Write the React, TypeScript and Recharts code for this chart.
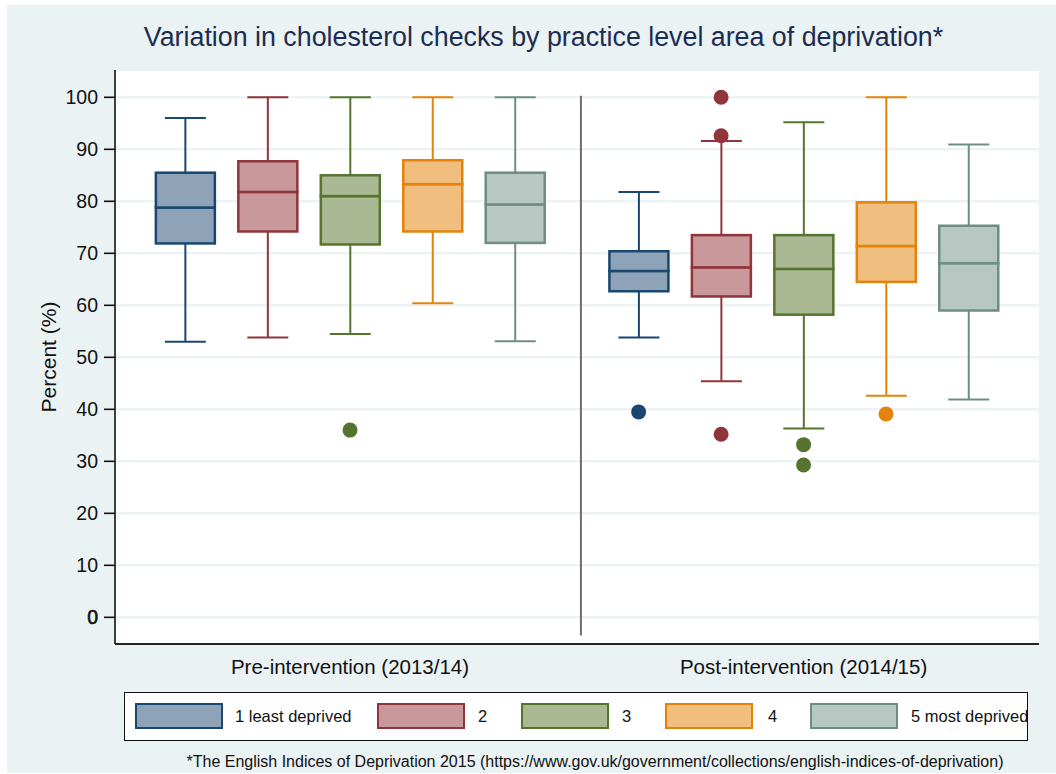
import React from 'react';
import {
  ComposedChart,
  Bar,
  Scatter,
  XAxis,
  YAxis,
  CartesianGrid,
  ReferenceLine,
  Legend,
} from 'recharts';

// ---------- data ----------
const periods = ['Pre-intervention (2013/14)', 'Post-intervention (2014/15)'];
const categories = ['1 least deprived', '2', '3', '4', '5 most deprived'];
const yTicks = [0, 10, 20, 30, 40, 50, 60, 70, 80, 90, 100];

const preMin = [53.0, 53.8, 54.5, 60.4, 53.1];
const preQ1 = [71.9, 74.2, 71.7, 74.2, 72.0];
const preMedian = [78.8, 81.8, 81.0, 83.3, 79.4];
const preQ3 = [85.5, 87.7, 85.0, 87.9, 85.5];
const preMax = [96.0, 100, 100, 100, 100];
const preOutliers: number[][] = [[], [], [36.0], [], []];

const postMin = [53.8, 45.4, 36.3, 42.6, 41.9];
const postQ1 = [62.7, 61.7, 58.2, 64.5, 59.0];
const postMedian = [66.6, 67.3, 67.0, 71.4, 68.1];
const postQ3 = [70.4, 73.5, 73.5, 79.8, 75.3];
const postMax = [81.8, 91.6, 95.2, 100, 90.9];
const postOutliers: number[][] = [[39.5], [100, 92.6, 35.2], [33.2, 29.3], [39.1], []];

// ---------- styles ----------
const STROKES = ['#1a476f', '#90353b', '#55752f', '#e5820a', '#6e8e84'];
const FILLS = ['#8ea3b8', '#c8989b', '#aab894', '#f0bf80', '#b7c7c1'];
const FONT = '"Liberation Sans", Arial, Helvetica, sans-serif';
const GROUP_STEP = 5.5;
const X_DOMAIN: [number, number] = [0.15, 11.355];
const Y_DOMAIN: [number, number] = [-5.13, 105.25];
const DIVIDER_X = 5.8;
const CAP_HALF = 20.5;

// ---------- build chart rows ----------
const groups = [
  { min: preMin, q1: preQ1, med: preMedian, q3: preQ3, max: preMax, out: preOutliers },
  { min: postMin, q1: postQ1, med: postMedian, q3: postQ3, max: postMax, out: postOutliers },
];

const rows: any[] = [];
const outlierRows: any[] = [];
groups.forEach((g, gi) => {
  categories.forEach((_, ci) => {
    const x = 1 + ci + gi * GROUP_STEP;
    rows.push({
      x,
      cat: ci,
      base: g.min[ci],
      lw: g.q1[ci] - g.min[ci],
      lb: g.med[ci] - g.q1[ci],
      ub: g.q3[ci] - g.med[ci],
      uw: g.max[ci] - g.q3[ci],
    });
    g.out[ci].forEach((v) => outlierRows.push({ x, y: v, cat: ci }));
  });
});
const groupCenters = periods.map((_, gi) => 3 + gi * GROUP_STEP);

// ---------- shapes ----------
const LowWhisker = (p: any) => {
  const { x, y, width, height, payload } = p;
  const cx = x + width / 2;
  const c = STROKES[payload.cat];
  return (
    <g>
      <line x1={cx} x2={cx} y1={y} y2={y + height} stroke={c} strokeWidth={2} />
      <line x1={cx - CAP_HALF} x2={cx + CAP_HALF} y1={y + height} y2={y + height} stroke={c} strokeWidth={2} />
    </g>
  );
};
const HighWhisker = (p: any) => {
  const { x, y, width, height, payload } = p;
  const cx = x + width / 2;
  const c = STROKES[payload.cat];
  return (
    <g>
      <line x1={cx} x2={cx} y1={y} y2={y + height} stroke={c} strokeWidth={2} />
      <line x1={cx - CAP_HALF} x2={cx + CAP_HALF} y1={y} y2={y} stroke={c} strokeWidth={2} />
    </g>
  );
};
const BoxPart = (p: any) => {
  const { x, y, width, height, payload } = p;
  return (
    <rect
      x={x}
      y={y}
      width={width}
      height={height}
      fill={FILLS[payload.cat]}
      stroke={STROKES[payload.cat]}
      strokeWidth={2.5}
    />
  );
};
const Empty = () => <g />;
const OutlierDot = (p: any) => (
  <circle cx={p.cx} cy={p.cy} r={7.5} fill={STROKES[p.payload.cat]} />
);

const YTick = (p: any) => {
  const { x, y, payload } = p;
  return (
    <text
      x={x}
      y={y}
      dy="0.36em"
      textAnchor="end"
      fontSize={19.5}
      fontFamily={FONT}
      fill="#111"
      stroke={payload.value === 0 ? '#111' : 'none'}
      strokeWidth={0.6}
    >
      {payload.value}
    </text>
  );
};

const YLabel = (p: any) => {
  const vb = p.viewBox || {};
  const cx = vb.x + 8.5;
  const cy = vb.y + vb.height / 2;
  return (
    <text
      x={cx}
      y={cy}
      transform={`rotate(-90 ${cx} ${cy})`}
      textAnchor="middle"
      dominantBaseline="central"
      fontSize={21}
      fontFamily={FONT}
      fill="#111"
    >
      Percent (%)
    </text>
  );
};

const SW_X = [10, 252, 396, 540, 685];
const TX_X = [110, 353, 497, 643, 786];
const renderLegend = () => (
  <div
    style={{
      position: 'relative',
      width: 904,
      height: 49,
      boxSizing: 'border-box',
      border: '1.3px solid #111',
      background: '#fff',
      fontFamily: FONT,
    }}
  >
    {categories.map((c, i) => (
      <React.Fragment key={i}>
        <div
          style={{
            position: 'absolute',
            left: SW_X[i],
            top: 10,
            width: 88,
            height: 26,
            boxSizing: 'border-box',
            border: `2px solid ${STROKES[i]}`,
            background: FILLS[i],
          }}
        />
        <div
          style={{
            position: 'absolute',
            left: TX_X[i],
            top: 0,
            height: 46,
            lineHeight: '46px',
            fontSize: 16.5,
            color: '#111',
            whiteSpace: 'nowrap',
          }}
        >
          {c}
        </div>
      </React.Fragment>
    ))}
  </div>
);

export default function App() {
  return (
    <div
      style={{
        position: 'absolute',
        left: 0,
        top: 0,
        width: 1056,
        height: 774,
        background: '#fff',
        overflow: 'hidden',
      }}
    >
      <svg width={1056} height={774} style={{ position: 'absolute', left: 0, top: 0 }}>
        <rect x={7} y={5} width={1049} height={768} fill="#eaf2f3" />
        <text
          x={543.5}
          y={46}
          textAnchor="middle"
          fontSize={26.8}
          fontFamily={FONT}
          fill="#1c2d50"
        >
          Variation in cholesterol checks by practice level area of deprivation*
        </text>
        <text x={595} y={767} textAnchor="middle" fontSize={16} fontFamily={FONT} fill="#111">
          *The English Indices of Deprivation 2015 (https://www.gov.uk/government/collections/english-indices-of-deprivation)
        </text>
      </svg>
      <div style={{ position: 'absolute', left: 0, top: 0 }}>
        <ComposedChart
          width={1056}
          height={774}
          data={rows}
          margin={{ top: 70, right: 17, bottom: 90, left: 40 }}
        >
          <CartesianGrid vertical={false} stroke="#e9f1f3" strokeWidth={2} fill="#ffffff" />
          <XAxis
            type="number"
            dataKey="x"
            domain={X_DOMAIN}
            allowDataOverflow
            ticks={groupCenters}
            interval={0}
            tickFormatter={(v: number) => periods[groupCenters.indexOf(v)] ?? ''}
            tickLine={false}
            tickSize={0}
            tickMargin={15}
            height={40}
            axisLine={{ stroke: '#222', strokeWidth: 2 }}
            tick={{ fontSize: 20.5, fill: '#111', fontFamily: FONT }}
          />
          <YAxis
            type="number"
            domain={Y_DOMAIN}
            allowDataOverflow
            ticks={yTicks}
            interval={0}
            width={75}
            tickSize={11}
            tickMargin={6}
            axisLine={{ stroke: '#111', strokeWidth: 1.6 }}
            tickLine={{ stroke: '#111', strokeWidth: 1.6 }}
            tick={<YTick />}
            label={<YLabel />}
          />
          <Legend
            layout="horizontal"
            verticalAlign="middle"
            align="center"
            content={renderLegend}
            wrapperStyle={{ left: 124, top: 692, width: 904, height: 49 }}
          />
          <ReferenceLine
            segment={[
              { x: DIVIDER_X, y: 100.3 },
              { x: DIVIDER_X, y: -3.5 },
            ]}
            stroke="#6e6e6e"
            strokeWidth={2}
          />
          <Bar dataKey="base" stackId="box" barSize={59} shape={<Empty />} isAnimationActive={false} />
          <Bar dataKey="lw" stackId="box" barSize={59} shape={<LowWhisker />} isAnimationActive={false} />
          <Bar dataKey="lb" stackId="box" barSize={59} shape={<BoxPart />} isAnimationActive={false} />
          <Bar dataKey="ub" stackId="box" barSize={59} shape={<BoxPart />} isAnimationActive={false} />
          <Bar dataKey="uw" stackId="box" barSize={59} shape={<HighWhisker />} isAnimationActive={false} />
          <Scatter data={outlierRows} dataKey="y" shape={<OutlierDot />} isAnimationActive={false} />
        </ComposedChart>
      </div>
    </div>
  );
}
